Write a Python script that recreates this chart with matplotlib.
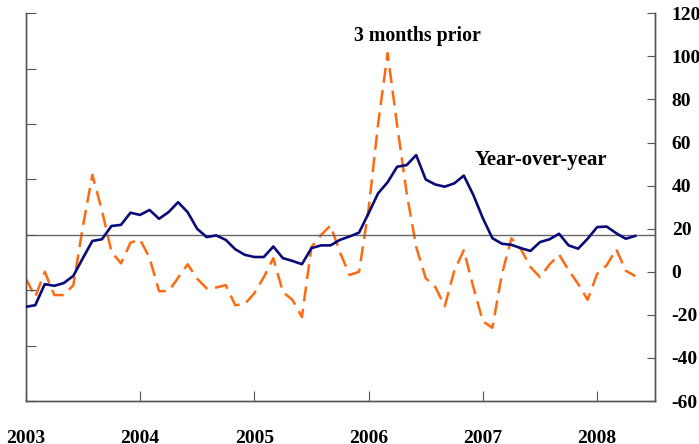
import numpy as np
import matplotlib
matplotlib.use("Agg")
import matplotlib.pyplot as plt

# ============ Data (monthly, Jan 2003 - May 2008) ============
start_year = 2003
yoy = [-13.0, -12.7, -8.9, -9.2, -8.7, -7.4, -4.2, -1.1, -0.8, 1.6, 1.8, 4.0,
       3.6, 4.5, 2.9, 4.1, 5.9, 4.1, 1.1, -0.4, -0.1, -0.9, -2.6, -3.6,
       -4.0, -4.0, -2.1, -4.2, -4.7, -5.3, -2.4, -1.9, -1.9, -0.9, -0.3, 0.4,
       3.9, 7.5, 9.5, 12.3, 12.6, 14.4, 10.0, 9.1, 8.7, 9.3, 10.7, 7.2,
       3.0, -0.6, -1.6, -1.8, -2.4, -2.9, -1.3, -0.8, 0.2, -1.9, -2.5, -0.7,
       1.4, 1.5, 0.3, -0.7, -0.2]
three_month = [-3, -11.7, 0, -10.8, -10.8, -6.2, 21, 45, 28.5, 9.3, 3.9, 13.5,
               15, 6.5, -9, -9, -2.8, 3.5, -3.2, -7.7, -7.3, -6.2, -15.5, -15,
               -10, -2.5, 6.3, -9.4, -13, -21, 11.5, 17, 21.5, 9, -1.5, 0,
               29, 68.6, 101.5, 68, 36.5, 11.5, -3, -7, -16, 0.5, 10, -7,
               -23, -26, -1.1, 15.5, 10.5, 2.2, -2.5, 3.4, 8, 0.8, -5.6, -13,
               -1, 3, 10.5, 0.5, -2]
years = [2003, 2004, 2005, 2006, 2007, 2008]
left_ticks = [-30, -20, -10, 0, 10, 20, 30, 40]
right_ticks = [-60, -40, -20, 0, 20, 40, 60, 80, 100, 120]

x_yoy = start_year + np.arange(len(yoy)) / 12.0
x_3m = start_year + np.arange(len(three_month)) / 12.0

# ============ Plot ============
fig = plt.figure(figsize=(6.99, 4.44), dpi=100)
ax = fig.add_axes([0.0368, 0.0968, 0.9002, 0.8732])
ax2 = ax.twinx()

font = "Liberation Serif"
spine_col = "#555555"

ax2.plot(x_3m, three_month, color="#ff6a10", lw=1.8, dashes=(6, 3))
ax.axhline(0, color="#666666", lw=1.0, zorder=1)
ax.plot(x_yoy, yoy, color="#0a0a78", lw=1.9, zorder=3)
ax.set_zorder(ax2.get_zorder() + 1)
ax.patch.set_visible(False)

ax.set_xlim(2003, 2008.506)
ax.set_ylim(-30, 40)
ax2.set_ylim(-60, 120)

ax.set_yticks(left_ticks)
ax.set_yticklabels([])
ax2.set_yticks(right_ticks)
ax2.set_yticklabels([str(t) for t in right_ticks], fontfamily=font,
                    fontweight="bold", fontsize=14)
ax.set_xticks(years)
ax.set_xticklabels([str(y) for y in years], fontfamily=font,
                   fontweight="bold", fontsize=14)

ax.tick_params(axis="y", direction="in", length=7, color=spine_col)
ax.tick_params(axis="x", direction="in", length=7, color=spine_col, pad=21)
ax2.tick_params(axis="y", direction="in", length=6, color=spine_col, pad=12)

for a in (ax, ax2):
    a.spines["top"].set_visible(False)
    for s in ("left", "right", "bottom"):
        a.spines[s].set_color(spine_col)
        a.spines[s].set_linewidth(1.0)

ax.text(0.623, 0.941, "3 months prior", transform=ax.transAxes, ha="center",
        va="center", fontfamily=font, fontweight="bold", fontsize=14.3)
ax.text(0.819, 0.622, "Year-over-year", transform=ax.transAxes, ha="center",
        va="center", fontfamily=font, fontweight="bold", fontsize=15)

fig.savefig("out.png", dpi=100)
